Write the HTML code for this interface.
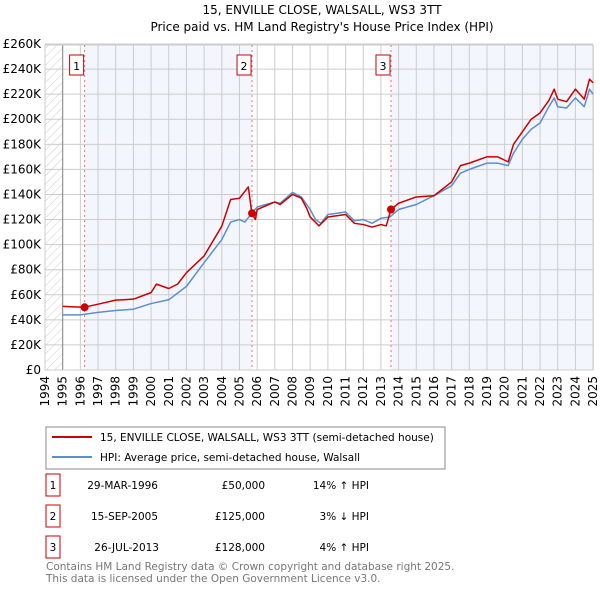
<!DOCTYPE html>
<html><head><meta charset="utf-8"><style>
body{margin:0;width:600px;height:590px;background:#fff;font-family:"Liberation Sans","DejaVu Sans",sans-serif;overflow:hidden}
svg text{font-family:"DejaVu Sans","Liberation Sans",sans-serif}
</style></head><body>
<svg id="c" width="600" height="590">
<defs><pattern id="hatch" width="6" height="6" patternUnits="userSpaceOnUse" patternTransform="rotate(45)"><line x1="0" y1="0" x2="0" y2="6" stroke="#ccc" stroke-width="1"/></pattern></defs>
<text x="322" y="14" font-size="12" text-anchor="middle">15, ENVILLE CLOSE, WALSALL, WS3 3TT</text>
<text x="322" y="31" font-size="12" text-anchor="middle">Price paid vs. HM Land Registry's House Price Index (HPI)</text>
<g id="plot"></g>
<g>
<rect x="46" y="427" width="399" height="42" fill="#fff" stroke="#888"/>
<line x1="52" y1="437" x2="92" y2="437" stroke="#cc0000" stroke-width="2"/>
<text x="100" y="441" font-size="10.5">15, ENVILLE CLOSE, WALSALL, WS3 3TT (semi-detached house)</text>
<line x1="52" y1="457" x2="92" y2="457" stroke="#5b8fd0" stroke-width="2"/>
<text x="100" y="461" font-size="10.5">HPI: Average price, semi-detached house, Walsall</text>
</g>
<g font-size="10.5">
<rect x="46" y="474" width="14" height="22" fill="#fff" stroke="#cc0000"/><text x="53" y="489" text-anchor="middle">1</text>
<text x="158" y="489" text-anchor="end">29-MAR-1996</text><text x="265" y="489" text-anchor="end">£50,000</text><text x="369" y="489" text-anchor="end">14% ↑ HPI</text>
<rect x="46" y="505" width="14" height="22" fill="#fff" stroke="#cc0000"/><text x="53" y="520" text-anchor="middle">2</text>
<text x="158" y="520" text-anchor="end">15-SEP-2005</text><text x="265" y="520" text-anchor="end">£125,000</text><text x="369" y="520" text-anchor="end">3% ↓ HPI</text>
<rect x="46" y="536" width="14" height="22" fill="#fff" stroke="#cc0000"/><text x="53" y="551" text-anchor="middle">3</text>
<text x="159" y="551" text-anchor="end">26-JUL-2013</text><text x="265" y="551" text-anchor="end">£128,000</text><text x="369" y="551" text-anchor="end">4% ↑ HPI</text>
</g>
<text x="46" y="570" font-size="10.5" fill="#777">Contains HM Land Registry data © Crown copyright and database right 2025.</text>
<text x="46" y="582" font-size="10.5" fill="#777">This data is licensed under the Open Government Licence v3.0.</text>
</svg>
<script>
const yTicks=[0,20,40,60,80,100,120,140,160,180,200,220,240,260];
const years=[1994,1995,1996,1997,1998,1999,2000,2001,2002,2003,2004,2005,2006,2007,2008,2009,2010,2011,2012,2013,2014,2015,2016,2017,2018,2019,2020,2021,2022,2023,2024,2025];
const hpiDates=[1995,1996,1997,1998,1999,2000,2001,2002,2003,2004,2004.5,2005,2005.3,2005.7,2006,2007,2007.3,2008,2008.5,2008.8,2009,2009.3,2009.6,2010,2011,2011.5,2012,2012.5,2013,2013.5,2014,2015,2016,2017,2017.5,2018,2019,2019.6,2020.2,2020.5,2021,2021.5,2022,2022.5,2022.8,2023,2023.5,2024,2024.5,2024.8,2025];
const hpiValues=[44,44,46,47.5,48.5,53,56,66.7,85.6,104,118,120,118,125,130,134,133,141.6,138,132,128,120,117,124,126,119,120,117,121,122,128,132,139,147,157,160,165,165,163,173,184,192,197,210,217,210,209,217,210,224,220];
const priceDates=[1995,1996.2,1997,1998,1999,2000,2000.3,2001,2001.5,2002,2003,2004,2004.5,2005,2005.5,2005.7,2005.9,2006,2007,2007.3,2008,2008.5,2008.8,2009,2009.5,2010,2011,2011.5,2012,2012.5,2013,2013.3,2013.57,2014,2015,2016,2017,2017.5,2018,2019,2019.6,2020.2,2020.5,2021,2021.5,2022,2022.5,2022.8,2023,2023.5,2024,2024.5,2024.8,2025];
const priceValues=[50.7,50,52.5,55.7,56.5,61.7,68.5,65,68.5,77.6,91,114.7,136,137,146,125,120,128,134,132,140,137,129,122,115,122,124,117,116,114,116,115,128,133,138,139,150,163,165,170,170,166,180,190,200,205,215,224,216,214,224,216,232,229];
const sales=[[1996.24,50,"1"],[2005.71,125,"2"],[2013.57,128,"3"]];
const NS="http://www.w3.org/2000/svg",g=document.getElementById('plot');
const X=v=>45+(v-1994)*17.68, Y=v=>370-v*1.2538;
function el(t,a,p){const e=document.createElementNS(NS,t);for(const k in a)e.setAttribute(k,a[k]);(p||g).appendChild(e);return e;}
el('rect',{x:45,y:45,width:548,height:325,fill:'#fff'});
const r1=el('rect',{x:X(1994),y:45,width:X(1995)-X(1994),height:325,fill:'url(#hatch)'});

const s1=el('rect',{x:X(sales[0][0]),y:45,width:X(sales[1][0])-X(sales[0][0]),height:325,fill:'#f3f6fd'});

const s2=el('rect',{x:X(sales[2][0]),y:45,width:X(2025)-X(sales[2][0]),height:325,fill:'#f3f6fd'});

yTicks.forEach(v=>{el('line',{x1:45,x2:X(2025),y1:Y(v),y2:Y(v),stroke:'#ccc'});
 const t=el('text',{x:41,y:Y(v)+4,'font-size':12,'text-anchor':'end'});t.textContent=v==0?'£0':'£'+v+'K';
 });
years.forEach(y=>{el('line',{x1:X(y),x2:X(y),y1:45,y2:370,stroke:'#ccc'});
 const t=el('text',{x:0,y:0,'font-size':12,'text-anchor':'end',transform:`translate(${X(y)+4},376) rotate(-90)`});t.textContent=y;
 });
el('line',{x1:X(1995),x2:X(1995),y1:45,y2:370,stroke:'#888'});
el('line',{x1:X(2025),x2:X(2025),y1:45,y2:370,stroke:'#888'});
el('rect',{x:45,y:45,width:548,height:325,fill:'none',stroke:'#ccc'});
sales.forEach(s=>{const l=el('line',{x1:X(s[0]),x2:X(s[0]),y1:45,y2:370,stroke:'#f07070','stroke-dasharray':'2,3'});
 
 const b=el('rect',{x:X(s[0])-15,y:55,width:14,height:20,fill:'#fff',stroke:'#cc0000'});
 
 const t=el('text',{x:X(s[0])-8,y:70,'font-size':11,'text-anchor':'middle'});t.textContent=s[2];});
function line(d,v,c,n){const p=el('polyline',{points:d.map((x,i)=>X(x)+','+Y(v[i])).join(' '),fill:'none',stroke:c,'stroke-width':1.5,'stroke-linejoin':'round'});
 }
line(hpiDates,hpiValues,'#5b8fd0','hpi-line');
line(priceDates,priceValues,'#cc0000','price-paid-line');
sales.forEach(s=>{const c=el('circle',{cx:X(s[0]),cy:Y(s[1]),r:4,fill:'#cc0000'});
 });
</script>
</body></html>
